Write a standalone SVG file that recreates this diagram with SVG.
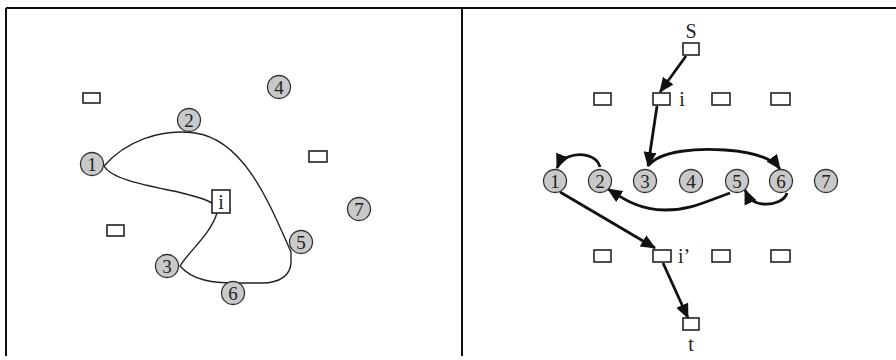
<svg xmlns="http://www.w3.org/2000/svg" width="896" height="360" viewBox="0 0 896 360">
<style>
.frame{stroke:#111;stroke-width:2;fill:none}
.c circle{fill:#c9c9c9;stroke:#333;stroke-width:1.3}
.c text,.lbl{font-family:"Liberation Serif",serif;font-size:19px;fill:#222;text-anchor:middle}
.lbl{font-size:20px}
.r{fill:#fff;stroke:#222;stroke-width:1.6}
.thin{fill:none;stroke:#222;stroke-width:1.4}
.thick{fill:none;stroke:#111;stroke-width:2.8}
</style>
<defs>
<marker id="ah" markerUnits="userSpaceOnUse" markerWidth="15" markerHeight="13" refX="14" refY="6.5" orient="auto">
<path d="M0,0 L15,6.5 L0,13 Z" fill="#111"/>
</marker>
</defs>
<rect width="896" height="360" fill="#fff"/>
<g id="frame">
<line class="frame" x1="6" y1="8" x2="896" y2="8"/>
<line class="frame" x1="6" y1="8" x2="6" y2="356"/>
<line class="frame" x1="462" y1="8" x2="462" y2="356"/>
</g>
<g id="connectors">
<path class="thin" d="M217,213 C210,235 190,250 180,266 C192,280 212,283 235,283 L262,283 C280,283 291,275 291,262 L291,252 C270,205 245,140 195,133 C160,128 125,142 104,166 C112,180 150,186 178,192 C198,197 210,200 217,207"/>
<path class="thick" marker-end="url(#ah)" d="M686,56 L660,92"/>
<path class="thick" marker-end="url(#ah)" d="M657,106 L648,166"/>
<path class="thick" marker-end="url(#ah)" d="M600,167 C597,155 580,152 568,157 C562,160 559,163 557,168"/>
<path class="thick" marker-end="url(#ah)" d="M648,166 C660,150 700,148 725,150 C755,152 772,158 780,169"/>
<path class="thick" marker-end="url(#ah)" d="M787,193 C785,200 775,205 763,204 C752,203 748,197 745,190"/>
<path class="thick" marker-end="url(#ah)" d="M730,193 C705,202 690,210 665,210 C640,210 625,200 608,189"/>
<path class="thick" marker-end="url(#ah)" d="M560,192 L655,248"/>
<path class="thick" marker-end="url(#ah)" d="M663,263 L688,318"/>
</g>
<g id="left-r1"><rect class="r" x="83" y="93" width="17" height="10"/></g>
<g id="left-r2"><rect class="r" x="107" y="225" width="17" height="11"/></g>
<g id="left-r3"><rect class="r" x="309" y="151" width="18" height="11"/></g>
<g id="left-i"><rect class="r" x="212" y="190" width="18" height="23"/><text class="lbl" x="221" y="209">i</text></g>
<g id="left-n1" class="c"><circle cx="92" cy="164" r="11.5"/><text x="92" y="171">1</text></g>
<g id="left-n2" class="c"><circle cx="189" cy="120" r="11.5"/><text x="189" y="127">2</text></g>
<g id="left-n3" class="c"><circle cx="167" cy="266" r="11.5"/><text x="167" y="273">3</text></g>
<g id="left-n4" class="c"><circle cx="279" cy="87" r="11.5"/><text x="279" y="94">4</text></g>
<g id="left-n5" class="c"><circle cx="301" cy="242" r="11.5"/><text x="301" y="249">5</text></g>
<g id="left-n6" class="c"><circle cx="233" cy="293" r="11.5"/><text x="233" y="300">6</text></g>
<g id="left-n7" class="c"><circle cx="359" cy="209" r="11.5"/><text x="359" y="216">7</text></g>
<g id="s"><text class="lbl" x="691" y="38">S</text><rect class="r" x="683" y="43" width="16" height="12"/></g>
<g id="top-r1"><rect class="r" x="594" y="93" width="17" height="12"/></g>
<g id="top-i"><rect class="r" x="653" y="93" width="17" height="12"/><text class="lbl" x="682" y="106">i</text></g>
<g id="top-r3"><rect class="r" x="712" y="93" width="18" height="12"/></g>
<g id="top-r4"><rect class="r" x="771" y="93" width="19" height="12"/></g>
<g id="n1" class="c"><circle cx="555" cy="181" r="11.5"/><text x="555" y="188">1</text></g>
<g id="n2" class="c"><circle cx="600" cy="181" r="11.5"/><text x="600" y="188">2</text></g>
<g id="n3" class="c"><circle cx="645" cy="181" r="11.5"/><text x="645" y="188">3</text></g>
<g id="n4" class="c"><circle cx="691" cy="181" r="11.5"/><text x="691" y="188">4</text></g>
<g id="n5" class="c"><circle cx="737" cy="181" r="11.5"/><text x="737" y="188">5</text></g>
<g id="n6" class="c"><circle cx="781" cy="181" r="11.5"/><text x="781" y="188">6</text></g>
<g id="n7" class="c"><circle cx="826" cy="181" r="11.5"/><text x="826" y="188">7</text></g>
<g id="bot-r1"><rect class="r" x="594" y="250" width="17" height="12"/></g>
<g id="bot-i"><rect class="r" x="653" y="250" width="18" height="12"/><text class="lbl" x="684" y="263">i’</text></g>
<g id="bot-r3"><rect class="r" x="712" y="250" width="18" height="12"/></g>
<g id="bot-r4"><rect class="r" x="771" y="250" width="19" height="12"/></g>
<g id="t"><rect class="r" x="683" y="318" width="16" height="12"/><text class="lbl" x="691" y="351">t</text></g>
</svg>
